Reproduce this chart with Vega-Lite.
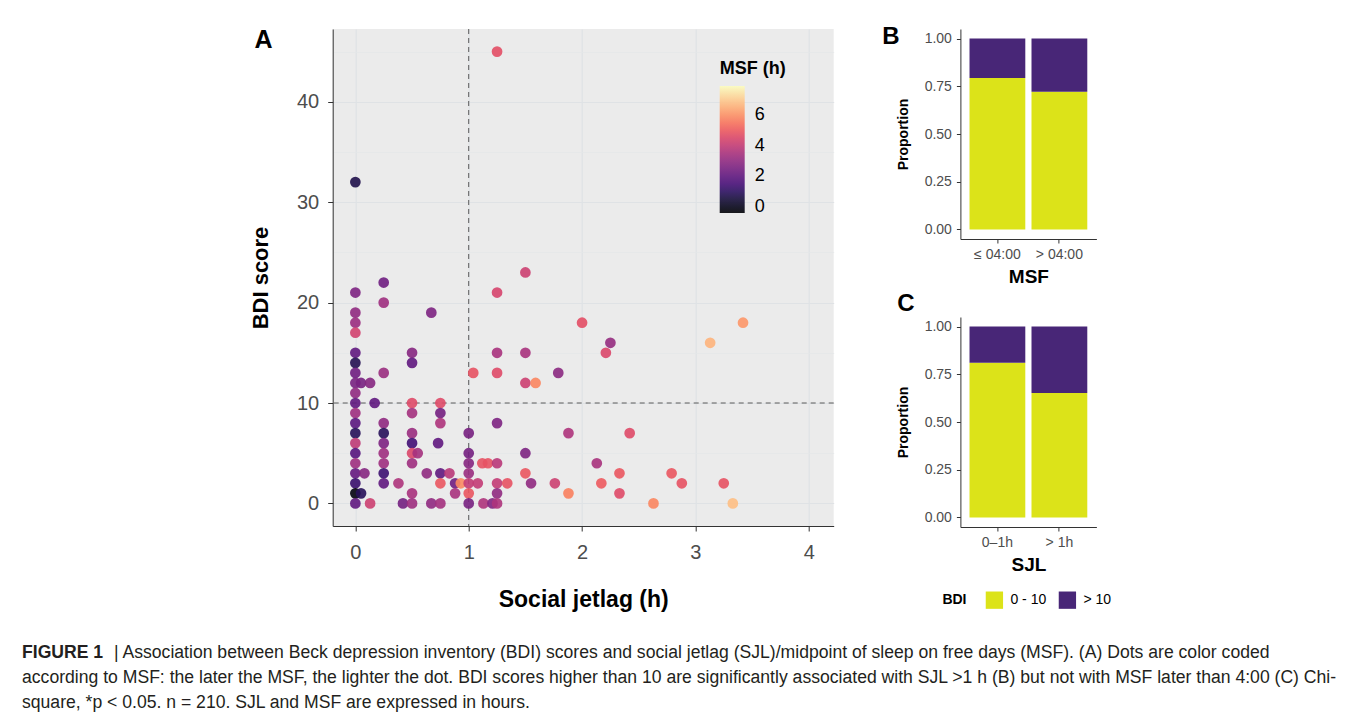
{
  "$schema": "https://vega.github.io/schema/vega-lite/v6.json",
  "padding": {"left": 22, "top": 25, "right": 8, "bottom": 4},
  "background": "white",
  "config": {"font": "Liberation Sans", "view": {"stroke": null}},
  "bounds": "flush",
  "spacing": 611,
  "vconcat": [
    {
      "bounds": "flush",
      "spacing": 126.7,
      "resolve": {"scale": {"color": "independent"}, "legend": {"color": "independent"}},
      "hconcat": [
        {"width": 184, "height": 498, "data": {"values": [{}]}, "mark": {"type": "point", "opacity": 0}},
        {
          "width": 501,
          "height": 497,
          "title": {"text": "A", "anchor": "start", "frame": "bounds", "fontSize": 25, "fontWeight": "bold", "color": "#000", "offset": 0, "dy": 24, "dx": 5},
          "view": {"fill": "#EBEBEB", "stroke": null},
          "layer": [
            {
              "data": {"values": [{"v": 1}]},
              "mark": {"type": "rule", "strokeDash": [5, 4], "color": "#5a5a5a", "strokeWidth": 1},
              "encoding": {"x": {"datum": 1}}
            },
            {
              "data": {"values": [{"v": 10}]},
              "mark": {"type": "rule", "strokeDash": [5, 4], "color": "#5a5a5a", "strokeWidth": 1},
              "encoding": {"y": {"datum": 10}}
            },
            {
              "data": {"values": [
                {"sjl": 0, "bdi": 32, "msf": 0.7}, {"sjl": 0, "bdi": 21, "msf": 2.6}, {"sjl": 0, "bdi": 19, "msf": 3.0},
                {"sjl": 0, "bdi": 18, "msf": 3.2}, {"sjl": 0, "bdi": 17, "msf": 4.3}, {"sjl": 0, "bdi": 15, "msf": 2.0},
                {"sjl": 0, "bdi": 14, "msf": 0.8}, {"sjl": 0, "bdi": 13, "msf": 2.3}, {"sjl": 0, "bdi": 12, "msf": 2.5},
                {"sjl": 0, "bdi": 11, "msf": 3.0}, {"sjl": 0, "bdi": 10, "msf": 2.0}, {"sjl": 0, "bdi": 9, "msf": 3.3},
                {"sjl": 0, "bdi": 8, "msf": 1.9}, {"sjl": 0, "bdi": 7, "msf": 0.9}, {"sjl": 0, "bdi": 6, "msf": 3.9},
                {"sjl": 0, "bdi": 5, "msf": 1.8}, {"sjl": 0, "bdi": 4, "msf": 3.3}, {"sjl": 0, "bdi": 3, "msf": 2.1},
                {"sjl": 0, "bdi": 2, "msf": 1.2}, {"sjl": 0, "bdi": 1, "msf": -0.2}, {"sjl": 0, "bdi": 0, "msf": 2.0},
                {"sjl": 0.05, "bdi": 1, "msf": 0.9}, {"sjl": 0.05, "bdi": 12, "msf": 2.5}, {"sjl": 0.13, "bdi": 12, "msf": 2.8},
                {"sjl": 0.17, "bdi": 10, "msf": 2.0}, {"sjl": 0.08, "bdi": 3, "msf": 2.8}, {"sjl": 0.13, "bdi": 0, "msf": 4.2},
                {"sjl": 0.25, "bdi": 22, "msf": 2.3}, {"sjl": 0.25, "bdi": 20, "msf": 3.3}, {"sjl": 0.25, "bdi": 13, "msf": 3.2},
                {"sjl": 0.25, "bdi": 8, "msf": 3.0}, {"sjl": 0.25, "bdi": 7, "msf": 0.9}, {"sjl": 0.25, "bdi": 6, "msf": 2.6},
                {"sjl": 0.25, "bdi": 5, "msf": 3.3}, {"sjl": 0.25, "bdi": 4, "msf": 3.3}, {"sjl": 0.25, "bdi": 3, "msf": 1.3},
                {"sjl": 0.25, "bdi": 2, "msf": 2.0}, {"sjl": 0.38, "bdi": 2, "msf": 3.6}, {"sjl": 0.42, "bdi": 0, "msf": 2.4},
                {"sjl": 0.5, "bdi": 15, "msf": 2.8}, {"sjl": 0.5, "bdi": 14, "msf": 2.0}, {"sjl": 0.5, "bdi": 10, "msf": 4.6},
                {"sjl": 0.5, "bdi": 9, "msf": 3.4}, {"sjl": 0.5, "bdi": 7, "msf": 3.2}, {"sjl": 0.5, "bdi": 6, "msf": 1.4},
                {"sjl": 0.5, "bdi": 5, "msf": 4.5}, {"sjl": 0.5, "bdi": 4, "msf": 3.3}, {"sjl": 0.5, "bdi": 1, "msf": 3.5},
                {"sjl": 0.5, "bdi": 0, "msf": 3.3}, {"sjl": 0.55, "bdi": 5, "msf": 3.4}, {"sjl": 0.63, "bdi": 3, "msf": 3.0},
                {"sjl": 0.67, "bdi": 19, "msf": 2.6}, {"sjl": 0.67, "bdi": 0, "msf": 3.0}, {"sjl": 0.73, "bdi": 6, "msf": 2.0},
                {"sjl": 0.75, "bdi": 10, "msf": 4.6}, {"sjl": 0.75, "bdi": 9, "msf": 2.4}, {"sjl": 0.75, "bdi": 8, "msf": 3.6},
                {"sjl": 0.75, "bdi": 3, "msf": 2.0}, {"sjl": 0.75, "bdi": 2, "msf": 4.9}, {"sjl": 0.75, "bdi": 0, "msf": 3.4},
                {"sjl": 0.83, "bdi": 3, "msf": 3.8}, {"sjl": 0.88, "bdi": 2, "msf": 2.3}, {"sjl": 0.88, "bdi": 1, "msf": 3.5},
                {"sjl": 0.93, "bdi": 2, "msf": 5.9},
                {"sjl": 1, "bdi": 7, "msf": 2.5}, {"sjl": 1, "bdi": 5, "msf": 2.4}, {"sjl": 1, "bdi": 4, "msf": 2.8},
                {"sjl": 1, "bdi": 3, "msf": 3.2}, {"sjl": 1, "bdi": 2, "msf": 4.0}, {"sjl": 1, "bdi": 1, "msf": 4.9},
                {"sjl": 1, "bdi": 0, "msf": 2.5}, {"sjl": 1.04, "bdi": 13, "msf": 4.8}, {"sjl": 1.08, "bdi": 2, "msf": 4.0},
                {"sjl": 1.12, "bdi": 4, "msf": 4.8}, {"sjl": 1.17, "bdi": 4, "msf": 4.8}, {"sjl": 1.13, "bdi": 0, "msf": 3.6},
                {"sjl": 1.21, "bdi": 0, "msf": 2.7},
                {"sjl": 1.25, "bdi": 45, "msf": 4.7}, {"sjl": 1.25, "bdi": 21, "msf": 4.4}, {"sjl": 1.25, "bdi": 15, "msf": 3.5},
                {"sjl": 1.25, "bdi": 13, "msf": 4.6}, {"sjl": 1.25, "bdi": 8, "msf": 2.6}, {"sjl": 1.25, "bdi": 4, "msf": 3.8},
                {"sjl": 1.25, "bdi": 2, "msf": 4.0}, {"sjl": 1.25, "bdi": 1, "msf": 3.0}, {"sjl": 1.25, "bdi": 0, "msf": 3.6},
                {"sjl": 1.34, "bdi": 2, "msf": 4.8},
                {"sjl": 1.5, "bdi": 23, "msf": 4.2}, {"sjl": 1.5, "bdi": 15, "msf": 3.5}, {"sjl": 1.5, "bdi": 12, "msf": 4.2},
                {"sjl": 1.5, "bdi": 5, "msf": 2.6}, {"sjl": 1.5, "bdi": 3, "msf": 4.9}, {"sjl": 1.55, "bdi": 2, "msf": 3.0},
                {"sjl": 1.59, "bdi": 12, "msf": 5.8}, {"sjl": 1.76, "bdi": 2, "msf": 4.2}, {"sjl": 1.79, "bdi": 13, "msf": 2.9},
                {"sjl": 1.88, "bdi": 7, "msf": 3.6}, {"sjl": 1.88, "bdi": 1, "msf": 5.7},
                {"sjl": 2.0, "bdi": 18, "msf": 4.7}, {"sjl": 2.13, "bdi": 4, "msf": 3.5}, {"sjl": 2.17, "bdi": 2, "msf": 5.0},
                {"sjl": 2.21, "bdi": 15, "msf": 4.5}, {"sjl": 2.25, "bdi": 16, "msf": 3.1}, {"sjl": 2.33, "bdi": 3, "msf": 4.9},
                {"sjl": 2.33, "bdi": 1, "msf": 4.6}, {"sjl": 2.42, "bdi": 7, "msf": 4.6}, {"sjl": 2.63, "bdi": 0, "msf": 5.8},
                {"sjl": 2.79, "bdi": 3, "msf": 4.9}, {"sjl": 2.88, "bdi": 2, "msf": 4.8}, {"sjl": 3.13, "bdi": 16, "msf": 6.6},
                {"sjl": 3.25, "bdi": 2, "msf": 4.8}, {"sjl": 3.33, "bdi": 0, "msf": 6.8}, {"sjl": 3.42, "bdi": 18, "msf": 6.1}
              ]},
              "mark": {"type": "circle", "size": 115, "opacity": 0.9},
              "encoding": {
                "x": {
                  "field": "sjl", "type": "quantitative",
                  "scale": {"domain": [-0.2, 4.22], "nice": false, "zero": false},
                  "axis": {
                    "title": "Social jetlag (h)",
                    "values": [0, 0.5, 1, 1.5, 2, 2.5, 3, 3.5, 4],
                    "format": "d",
                    "labelExpr": "datum.value % 1 === 0 ? datum.label : ''",
                    "grid": true,
                    "gridColor": {"condition": {"test": "datum.value % 1 === 0", "value": "#dfe2e5"}, "value": "#e4e6e8"},
                    "gridWidth": {"condition": {"test": "datum.value % 1 === 0", "value": 1.2}, "value": 0.7},
                    "tickOpacity": {"condition": {"test": "datum.value % 1 === 0", "value": 1}, "value": 0},
                    "tickSize": 5, "tickColor": "#333333", "domainColor": "#333333",
                    "labelFontSize": 20, "labelColor": "#4d4d4d", "labelPadding": 11,
                    "titleFontSize": 23, "titleFontWeight": "bold", "titleColor": "#000000", "titlePadding": 26
                  }
                },
                "y": {
                  "field": "bdi", "type": "quantitative",
                  "scale": {"domain": [-2.25, 47.25], "nice": false, "zero": false},
                  "axis": {
                    "title": "BDI score",
                    "values": [0, 5, 10, 15, 20, 25, 30, 35, 40, 45],
                    "format": "d",
                    "labelExpr": "datum.value % 10 === 0 ? datum.label : ''",
                    "grid": true,
                    "gridColor": {"condition": {"test": "datum.value % 10 === 0", "value": "#dfe2e5"}, "value": "#e4e6e8"},
                    "gridWidth": {"condition": {"test": "datum.value % 10 === 0", "value": 1.2}, "value": 0.7},
                    "tickOpacity": {"condition": {"test": "datum.value % 10 === 0", "value": 1}, "value": 0},
                    "tickSize": 5, "tickColor": "#333333", "domainColor": "#333333",
                    "labelFontSize": 20, "labelColor": "#4d4d4d", "labelPadding": 9,
                    "titleFontSize": 22, "titleFontWeight": "bold", "titleColor": "#000000", "titlePadding": 24
                  }
                },
                "color": {
                  "field": "msf", "type": "quantitative",
                  "scale": {"scheme": "magma", "domain": [-0.4, 7.9]},
                  "legend": {
                    "orient": "none", "legendX": 387, "legendY": 31, "direction": "vertical",
                    "title": "MSF (h)", "titleFontSize": 18, "titleFontWeight": "bold", "titleColor": "#000000", "titlePadding": 8,
                    "values": [0, 2, 4, 6], "labelFontSize": 18, "labelColor": "#000000", "labelOffset": 10,
                    "gradientLength": 127, "gradientThickness": 25, "gradientStrokeWidth": 0
                  }
                }
              }
            }
          ]
        },
        {
          "bounds": "flush",
          "spacing": 78,
          "resolve": {"scale": {"color": "independent"}, "legend": {"color": "independent"}},
          "vconcat": [
            {
              "width": 136,
              "height": 210,
              "title": {"text": "B", "anchor": "start", "frame": "bounds", "fontSize": 24, "fontWeight": "bold", "color": "#000", "offset": 0, "dy": 20, "dx": -14},
              "data": {"values": [
                {"grp": "≤ 04:00", "bdi": "0 - 10", "k": 1, "p": 0.793},
                {"grp": "≤ 04:00", "bdi": "> 10", "k": 2, "p": 0.207},
                {"grp": "> 04:00", "bdi": "0 - 10", "k": 1, "p": 0.721},
                {"grp": "> 04:00", "bdi": "> 10", "k": 2, "p": 0.279}
              ]},
              "mark": {"type": "bar"},
              "encoding": {
                "x": {
                  "field": "grp", "type": "nominal", "sort": ["≤ 04:00", "> 04:00"],
                  "scale": {"paddingInner": 0.1, "paddingOuter": 0.147},
                  "axis": {"title": "MSF", "labelAngle": 0, "labelFontSize": 14, "labelColor": "#4d4d4d", "tickSize": 4, "tickColor": "#333333", "domainColor": "#333333", "labelPadding": 4, "titleFontSize": 19, "titleFontWeight": "bold", "titleColor": "#000000", "titlePadding": 6}
                },
                "y": {
                  "field": "p", "type": "quantitative", "stack": "zero",
                  "scale": {"domain": [-0.05, 1.05], "nice": false, "zero": false},
                  "axis": {"title": "Proportion", "values": [0, 0.25, 0.5, 0.75, 1], "format": ".2f", "grid": false, "labelFontSize": 14, "labelColor": "#4d4d4d", "tickSize": 4, "tickColor": "#333333", "domainColor": "#333333", "labelPadding": 5, "titleFontSize": 14, "titleFontWeight": "bold", "titleColor": "#000000", "titlePadding": 14}
                },
                "color": {"field": "bdi", "type": "nominal", "scale": {"domain": ["0 - 10", "> 10"], "range": ["#dce319", "#482677"]}, "legend": null},
                "order": {"field": "k", "type": "quantitative"}
              }
            },
            {
              "width": 136,
              "height": 210,
              "title": {"text": "C", "anchor": "start", "frame": "bounds", "fontSize": 24, "fontWeight": "bold", "color": "#000", "offset": 0, "dy": -1, "dx": 1},
              "data": {"values": [
                {"grp": "0–1h", "bdi": "0 - 10", "k": 1, "p": 0.81},
                {"grp": "0–1h", "bdi": "> 10", "k": 2, "p": 0.19},
                {"grp": "> 1h", "bdi": "0 - 10", "k": 1, "p": 0.652},
                {"grp": "> 1h", "bdi": "> 10", "k": 2, "p": 0.348}
              ]},
              "mark": {"type": "bar"},
              "encoding": {
                "x": {
                  "field": "grp", "type": "nominal", "sort": ["0–1h", "> 1h"],
                  "scale": {"paddingInner": 0.1, "paddingOuter": 0.147},
                  "axis": {"title": "SJL", "labelAngle": 0, "labelFontSize": 14, "labelColor": "#4d4d4d", "tickSize": 4, "tickColor": "#333333", "domainColor": "#333333", "labelPadding": 4, "titleFontSize": 19, "titleFontWeight": "bold", "titleColor": "#000000", "titlePadding": 6}
                },
                "y": {
                  "field": "p", "type": "quantitative", "stack": "zero",
                  "scale": {"domain": [-0.05, 1.05], "nice": false, "zero": false},
                  "axis": {"title": "Proportion", "values": [0, 0.25, 0.5, 0.75, 1], "format": ".2f", "grid": false, "labelFontSize": 14, "labelColor": "#4d4d4d", "tickSize": 4, "tickColor": "#333333", "domainColor": "#333333", "labelPadding": 5, "titleFontSize": 14, "titleFontWeight": "bold", "titleColor": "#000000", "titlePadding": 14}
                },
                "color": {
                  "field": "bdi", "type": "nominal",
                  "scale": {"domain": ["0 - 10", "> 10"], "range": ["#dce319", "#482677"]},
                  "legend": {
                    "orient": "none", "legendX": -18, "legendY": 274, "direction": "horizontal",
                    "title": "BDI", "titleOrient": "left", "titleFontSize": 14, "titleFontWeight": "bold", "titleColor": "#000000", "titlePadding": 18,
                    "symbolType": "square", "symbolSize": 300, "symbolStrokeWidth": 0, "symbolOpacity": 1,
                    "labelFontSize": 14, "labelColor": "#000000", "labelOffset": 7, "columnPadding": 12
                  }
                },
                "order": {"field": "k", "type": "quantitative"}
              }
            }
          ]
        }
      ]
    },
    {
      "width": 1320,
      "height": 75,
      "data": {"values": [
        {"line": 1, "part": "b", "t": "FIGURE 1"},
        {"line": 1, "part": "r", "t": "| Association between Beck depression inventory (BDI) scores and social jetlag (SJL)/midpoint of sleep on free days (MSF). (A) Dots are color coded"},
        {"line": 2, "part": "n", "t": "according to MSF: the later the MSF, the lighter the dot. BDI scores higher than 10 are significantly associated with SJL >1 h (B) but not with MSF later than 4:00 (C) Chi-"},
        {"line": 3, "part": "n", "t": "square, *p < 0.05. n = 210. SJL and MSF are expressed in hours."}
      ]},
      "encoding": {
        "y": {"field": "line", "type": "ordinal", "scale": {"type": "point", "padding": 0.5, "domain": [1, 2, 3]}, "axis": null},
        "x": {"value": 0},
        "text": {"field": "t"}
      },
      "layer": [
        {"transform": [{"filter": "datum.part === 'b'"}], "mark": {"type": "text", "align": "left", "baseline": "middle", "fontSize": 17.6, "fontWeight": "bold", "color": "#231f20"}},
        {"transform": [{"filter": "datum.part === 'r'"}], "mark": {"type": "text", "align": "left", "baseline": "middle", "fontSize": 17.6, "color": "#231f20", "dx": 92}},
        {"transform": [{"filter": "datum.part === 'n'"}], "mark": {"type": "text", "align": "left", "baseline": "middle", "fontSize": 17.6, "color": "#231f20"}}
      ]
    }
  ]
}
